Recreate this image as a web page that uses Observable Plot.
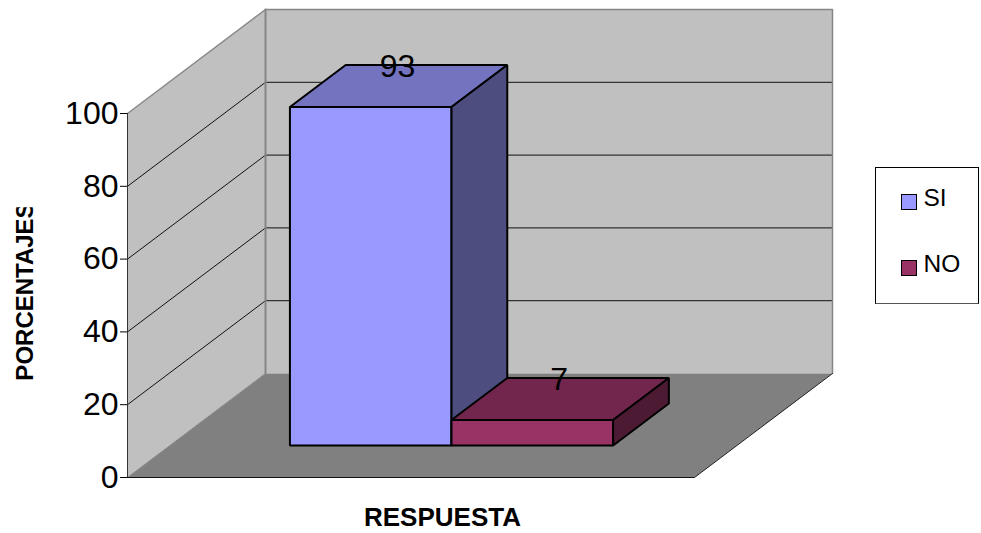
<!DOCTYPE html>
<html>
<head>
<meta charset="utf-8">
<script src="https://cdn.jsdelivr.net/npm/d3@7"></script>
<script src="https://cdn.jsdelivr.net/npm/@observablehq/plot@0.6"></script>
<style>
  html, body { margin: 0; padding: 0; background: #fff; }
  #chart { position: relative; width: 981px; height: 533px; font-family: "Liberation Sans", Arial, sans-serif; }
  #chart svg { display: block; background: transparent; }
  .ylabel-clip { clip-path: inset(5px -10px -10px -10px) fill-box; }
  #legend { position: absolute; left: 875px; top: 167px; width: 102px; height: 135px; border: 1px solid #000; border-bottom-color: #555; background: #fff; }
  #legend .item { position: absolute; left: 25px; height: 17px; display: flex; align-items: center; font-size: 24.5px; color: #000; line-height: 17px; }
  #legend .swatch { width: 14px; height: 14px; border: 1.5px solid #000; margin-right: 6.5px; }
  #legend .name { position: relative; top: -4px; }
</style>
</head>
<body>
<div id="chart"></div>
<script>
// Survey results: share of answers per response, as a 3D column chart.
const categories = ["SI", "NO"];
const values = [93, 7];
const yTicks = [0, 20, 40, 60, 80, 100];
const gridTicks = [20, 40, 60, 80];
const frontColors = ["#9999FF", "#993366"];
const topColors = ["#7373BF", "#73264D"];
const sideColors = ["#4D4D80", "#4D1A33"];
const yLabel = "PORCENTAJES";
const xLabel = "RESPUESTA";

// Oblique projection: a depth of 1 shifts a point along x and up in value units.
const depthX = 138 / 567;
const depthY = 104 / 3.64;
const project = (u, v, d) => ({x: u + d * depthX, y: v + d * depthY});

// Columns sit side by side in the single category band, centred in width and depth.
const barWidth = 0.285;
const barStart = 0.2115;
const depthNear = 0.308;
const depthFar = 0.712;

const face = (pts, fill, stroke, strokeWidth) =>
  Plot.line(pts.map(([u, v, d]) => project(u, v, d)), {
    x: "x", y: "y", curve: "linear-closed", fill, stroke, strokeWidth, strokeLinejoin: "miter"
  });

const edge = (pts, stroke, strokeWidth) =>
  Plot.line(pts.map(([u, v, d]) => project(u, v, d)), {x: "x", y: "y", stroke, strokeWidth});

const wallEdge = "#868686";

const marks = [
  // Walls and floor
  face([[0, 0, 0], [0, 100, 0], [0, 100, 1], [0, 0, 1]], "#C0C0C0", "none"),
  face([[0, 0, 1], [0, 100, 1], [1, 100, 1], [1, 0, 1]], "#C0C0C0", "none"),
  face([[0, 0, 0], [1, 0, 0], [1, 0, 1], [0, 0, 1]], "#808080", "none"),
  // Gridlines across the left and back walls
  ...gridTicks.map(t => edge([[0, t, 0], [0, t, 1], [1, t, 1]], "#111", 1)),
  // Wall outlines
  edge([[0, 100, 0], [0, 100, 1], [1, 100, 1], [1, 0, 1]], wallEdge, 1.5),
  edge([[0, 0, 1], [0, 100, 1]], wallEdge, 2),
  edge([[0, 0, 0], [0, 0, 1]], wallEdge, 1),
  edge([[1, 0, 0], [1, 0, 1]], "#222", 1),
  Plot.ruleX([0], {y1: 0, y2: 100, stroke: "#333", strokeWidth: 1}),
  Plot.ruleY([0], {x1: 0, x2: 1, stroke: "#111", strokeWidth: 1}),
  // Columns, back faces first
  ...categories.flatMap((c, i) => {
    const u0 = barStart + i * barWidth, u1 = u0 + barWidth, v = values[i];
    return [
      face([[u0, 0, depthNear], [u1, 0, depthNear], [u1, v, depthNear], [u0, v, depthNear]], frontColors[i], "#000", 2),
      face([[u0, v, depthNear], [u1, v, depthNear], [u1, v, depthFar], [u0, v, depthFar]], topColors[i], "#000", 2),
      face([[u1, 0, depthNear], [u1, 0, depthFar], [u1, v, depthFar], [u1, v, depthNear]], sideColors[i], "#000", 2)
    ];
  }),
  // Value labels above each column's top face
  Plot.text(categories.map((c, i) => ({
    ...project(barStart + (i + 0.5) * barWidth, values[i], (depthNear + depthFar) / 2),
    label: String(values[i])
  })), {x: "x", y: "y", text: "label", fontSize: 32, fill: "#000", lineAnchor: "bottom", dx: -1, dy: -9}),
  Plot.axisY({ticks: yTicks, tickSize: 7, tickPadding: 2, fontSize: 32, label: null, tickFormat: d => String(d)}),
  Plot.text([yLabel], {
    frameAnchor: "left", textAnchor: "middle", dx: -102, dy: -4, rotate: -90, fontSize: 24, fontWeight: "bold", fill: "#000",
    className: "ylabel-clip"
  }),
  Plot.text([xLabel], {
    frameAnchor: "bottom", dx: 31.5, dy: 48, fontSize: 26, fontWeight: "bold", fill: "#000"
  })
];

const plot = Plot.plot({
  width: 981,
  height: 533,
  marginLeft: 127,
  marginRight: 287,
  marginTop: 113,
  marginBottom: 56,
  style: {fontFamily: '"Liberation Sans", Arial, sans-serif', overflow: "visible", background: "transparent"},
  x: {domain: [0, 1], axis: null},
  y: {domain: [0, 100], axis: null},
  marks
});
const chart = document.getElementById("chart");
chart.appendChild(plot);

// Legend box to the right of the plot
const legend = document.createElement("div");
legend.id = "legend";
categories.forEach((c, i) => {
  const item = document.createElement("div");
  item.className = "item";
  item.style.top = (25 + i * 66) + "px";
  const sw = document.createElement("span");
  sw.className = "swatch";
  sw.style.background = frontColors[i];
  const label = document.createElement("span");
  label.className = "name";
  label.textContent = c;
  item.append(sw, label);
  legend.appendChild(item);
});
chart.appendChild(legend);
</script>
</body>
</html>
